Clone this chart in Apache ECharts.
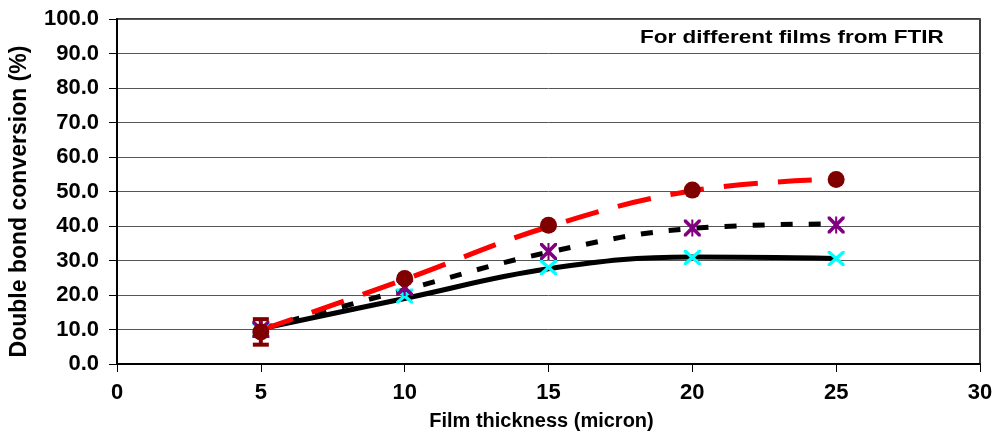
<!DOCTYPE html>
<html>
<head>
<meta charset="utf-8">
<script src="https://cdn.jsdelivr.net/npm/echarts@6/dist/echarts.min.js"></script>
<style>
  html, body { margin: 0; padding: 0; background: #fff; }
  #chart { width: 994px; height: 431px; }
</style>
</head>
<body>
<div id="chart"></div>
<script>
  // film thickness (micron)
  const thickness = [5, 10, 15, 20, 25];
  // measured conversion (%), one list per film
  const redPoints = [9.3, 24.8, 40.2, 50.4, 53.5];
  const purplePoints = [10.0, 22.2, 32.6, 39.4, 40.3];
  const cyanPoints = [9.9, 19.7, 28.0, 30.9, 30.6];
  // trend curves
  const redTrend = [9.8, 24.5, 39.8, 50.2, 53.6];
  const dottedTrend = [10.2, 21.5, 32.4, 39.3, 40.6];
  const solidTrend = [10.2, 19.0, 27.6, 31.0, 30.6];
  // error bar on the first red point [x, low, high]
  const redErrors = [[5, 5.6, 13.0]];
  const yTicks = [0, 10, 20, 30, 40, 50, 60, 70, 80, 90, 100];

  const font = 'Liberation Sans, Arial, sans-serif';
  const pair = (ys) => thickness.map((x, i) => [x, ys[i]]);

  // marker shapes
  const xPath = 'path://M0,0 L3,0 L10,7 L17,0 L20,0 L20,3 L13,10 L20,17 L20,20 L17,20 L10,13 L3,20 L0,20 L0,17 L7,10 L0,3 Z';
  const starPath = xPath.replace(' Z', ' Z M8.8,0 L11.2,0 L11.2,20 L8.8,20 Z');

  const chartDom = document.getElementById('chart');
  const myChart = echarts.init(chartDom);

  const option = {
    animation: false,
    grid: {
      left: 117,
      right: 14,
      top: 19,
      bottom: 67,
      outerBoundsMode: 'none',
      show: true,
      borderColor: '#000',
      borderWidth: 1.5,
    },
    xAxis: {
      type: 'value',
      min: 0,
      max: 30,
      interval: 5,
      name: 'Film thickness (micron)',
      nameLocation: 'middle',
      nameGap: 47,
      nameTextStyle: { color: '#000', fontFamily: font, fontWeight: 'bold', fontSize: 20, padding: [0, 14, 0, 0] },
      axisLine: { lineStyle: { color: '#000', width: 2 } },
      axisTick: { show: true, length: 8, lineStyle: { color: '#000', width: 1 } },
      axisLabel: { color: '#000', fontFamily: font, fontWeight: 'bold', fontSize: 22, margin: 18 },
      splitLine: { show: false },
    },
    yAxis: {
      type: 'value',
      min: yTicks[0],
      max: yTicks[yTicks.length - 1],
      interval: 10,
      name: 'Double bond conversion (%)',
      nameLocation: 'middle',
      nameGap: 86,
      nameTextStyle: { color: '#000', fontFamily: font, fontWeight: 'bold', fontSize: 23, padding: [0, 20, 0, 0] },
      axisLine: { show: true, lineStyle: { color: '#000', width: 2 } },
      axisTick: { show: true, length: 8, lineStyle: { color: '#000', width: 1 } },
      axisLabel: {
        color: '#000', fontFamily: font, fontWeight: 'bold', fontSize: 22, margin: 18,
        formatter: (v) => v.toFixed(1),
      },
      splitLine: { show: true, lineStyle: { color: '#555', width: 1 } },
    },
    graphic: [
      {
        type: 'text',
        x: 640,
        y: 29,
        scaleX: 1.25,
        style: { text: 'For different films from FTIR', fill: '#000', font: 'bold 18px ' + font },
      },
    ],
    series: [
      {
        name: 'solid trend',
        type: 'line',
        data: pair(solidTrend),
        smooth: 0.4,
        showSymbol: false,
        lineStyle: { color: '#000', width: 5 },
        z: 2,
      },
      {
        name: 'dotted trend',
        type: 'line',
        data: pair(dottedTrend),
        smooth: 0.4,
        showSymbol: false,
        lineStyle: { color: '#000', width: 5, type: [12, 16] },
        z: 2,
      },
      {
        name: 'red trend',
        type: 'line',
        data: pair(redTrend),
        smooth: 0.4,
        showSymbol: false,
        lineStyle: { color: '#ff0000', width: 5, type: [34, 20] },
        z: 3,
      },
      {
        name: 'red error',
        type: 'custom',
        data: redErrors,
        renderItem: (params, api) => {
          const lo = api.coord([api.value(0), api.value(1)]);
          const hi = api.coord([api.value(0), api.value(2)]);
          const w = 8;
          const style = { stroke: '#800000', lineWidth: 4 };
          return {
            type: 'group',
            children: [
              { type: 'line', shape: { x1: lo[0], y1: lo[1], x2: hi[0], y2: hi[1] }, style },
              { type: 'line', shape: { x1: lo[0] - w, y1: lo[1], x2: lo[0] + w, y2: lo[1] }, style },
              { type: 'line', shape: { x1: hi[0] - w, y1: hi[1], x2: hi[0] + w, y2: hi[1] }, style },
            ],
          };
        },
        z: 4,
      },
      {
        name: 'cyan',
        type: 'scatter',
        data: pair(cyanPoints),
        symbol: xPath,
        symbolSize: [17, 15],
        itemStyle: { color: '#00ffff', opacity: 1 },
        z: 5,
      },
      {
        name: 'purple',
        type: 'scatter',
        data: pair(purplePoints),
        symbol: starPath,
        symbolSize: [17, 17],
        itemStyle: { color: '#800080', opacity: 1 },
        z: 6,
      },
      {
        name: 'red',
        type: 'scatter',
        data: pair(redPoints),
        symbol: 'circle',
        symbolSize: 17,
        itemStyle: { color: '#800000', opacity: 1 },
        z: 7,
      },
    ],
  };
  option && myChart.setOption(option);
</script>
</body>
</html>
